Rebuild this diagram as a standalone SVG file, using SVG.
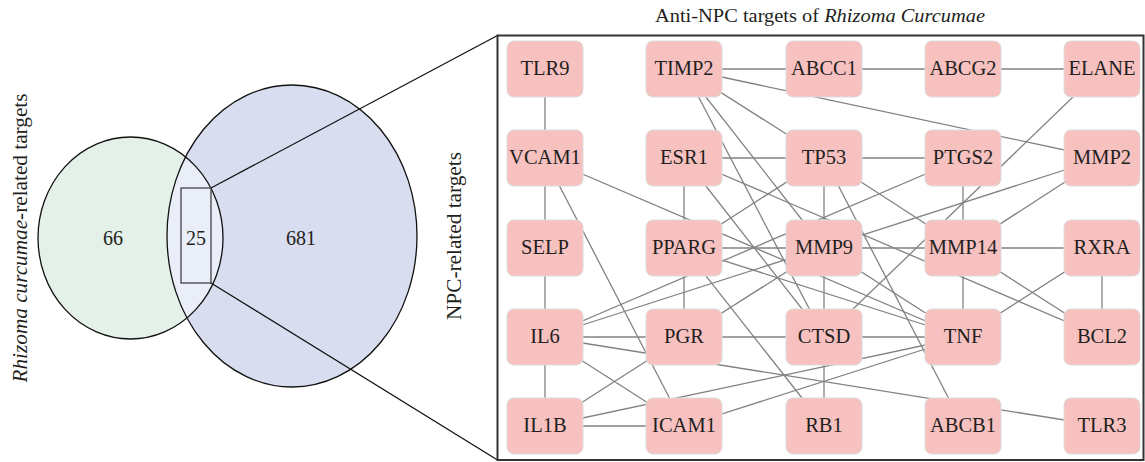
<svg xmlns="http://www.w3.org/2000/svg" width="1145" height="462" viewBox="0 0 1145 462">
<style>
.t{font-family:"Liberation Serif","Times New Roman",serif;fill:#231f20}
.n rect{fill:#f7c1c0;stroke:#dcdcdc;stroke-width:1}
.n text{font-family:"Liberation Serif","Times New Roman",serif;font-size:20.5px;fill:#231f20;text-anchor:middle}
#edges line{stroke:#828282;stroke-width:1.3}
</style>
<defs>
<clipPath id="cg"><ellipse cx="130.5" cy="238" rx="92.5" ry="101"/></clipPath>
</defs>
<rect width="1145" height="462" fill="#fff"/>
<g id="venn">
<ellipse cx="130.5" cy="238" rx="92.5" ry="101" fill="#e3f1e8"/>
<ellipse cx="292" cy="236" rx="125" ry="151" fill="#d8ddf0"/>
<ellipse cx="292" cy="236" rx="125" ry="151" fill="#eaeef8" clip-path="url(#cg)"/>
<ellipse cx="130.5" cy="238" rx="92.5" ry="101" fill="none" stroke="#111" stroke-width="1.3"/>
<ellipse cx="292" cy="236" rx="125" ry="151" fill="none" stroke="#111" stroke-width="1.3"/>
<rect x="181" y="188" width="30" height="95" fill="none" stroke="#444" stroke-width="1.3"/>
<text class="t" x="113" y="245" font-size="20" text-anchor="middle">66</text>
<text class="t" x="196" y="245" font-size="20" text-anchor="middle">25</text>
<text class="t" x="301" y="245" font-size="20" text-anchor="middle">681</text>
<line x1="211" y1="188" x2="497.5" y2="35.5" stroke="#111" stroke-width="1.3"/>
<line x1="211" y1="283" x2="497.5" y2="460" stroke="#111" stroke-width="1.3"/>
</g>
<text class="t" font-size="20" text-anchor="middle" textLength="289" lengthAdjust="spacingAndGlyphs" transform="translate(27,238) rotate(-90)"><tspan font-style="italic">Rhizoma curcumae</tspan>-related targets</text>
<text class="t" font-size="20" text-anchor="middle" textLength="168" lengthAdjust="spacingAndGlyphs" transform="translate(461,236) rotate(-90)">NPC-related targets</text>
<text class="t" font-size="18" x="820" y="22" text-anchor="middle" textLength="330" lengthAdjust="spacingAndGlyphs">Anti-NPC targets of <tspan font-style="italic">Rhizoma Curcumae</tspan></text>
<rect x="497.5" y="35.5" width="646" height="424.5" fill="none" stroke="#333" stroke-width="2"/>
<g id="edges">
<line x1="545" y1="69" x2="545" y2="158"/>
<line x1="684" y1="69" x2="824" y2="69"/>
<line x1="824" y1="69" x2="963" y2="69"/>
<line x1="963" y1="69" x2="1102" y2="69"/>
<line x1="684" y1="69" x2="1102" y2="158"/>
<line x1="684" y1="69" x2="824" y2="158"/>
<line x1="684" y1="69" x2="824" y2="337"/>
<line x1="684" y1="69" x2="824" y2="248"/>
<line x1="684" y1="158" x2="824" y2="158"/>
<line x1="684" y1="158" x2="684" y2="248"/>
<line x1="684" y1="158" x2="824" y2="337"/>
<line x1="684" y1="158" x2="1102" y2="337"/>
<line x1="824" y1="158" x2="963" y2="158"/>
<line x1="824" y1="158" x2="824" y2="248"/>
<line x1="824" y1="158" x2="684" y2="248"/>
<line x1="824" y1="158" x2="963" y2="426"/>
<line x1="824" y1="158" x2="963" y2="248"/>
<line x1="963" y1="158" x2="963" y2="248"/>
<line x1="545" y1="337" x2="963" y2="158"/>
<line x1="1102" y1="69" x2="824" y2="337"/>
<line x1="1102" y1="158" x2="963" y2="248"/>
<line x1="545" y1="337" x2="1102" y2="158"/>
<line x1="545" y1="158" x2="545" y2="248"/>
<line x1="545" y1="158" x2="684" y2="426"/>
<line x1="545" y1="158" x2="963" y2="337"/>
<line x1="684" y1="248" x2="963" y2="248"/>
<line x1="684" y1="248" x2="963" y2="337"/>
<line x1="684" y1="248" x2="684" y2="337"/>
<line x1="684" y1="248" x2="824" y2="426"/>
<line x1="824" y1="248" x2="824" y2="426"/>
<line x1="824" y1="248" x2="963" y2="337"/>
<line x1="824" y1="248" x2="684" y2="337"/>
<line x1="963" y1="248" x2="1102" y2="248"/>
<line x1="963" y1="248" x2="963" y2="337"/>
<line x1="963" y1="248" x2="1102" y2="337"/>
<line x1="1102" y1="248" x2="1102" y2="337"/>
<line x1="1102" y1="248" x2="963" y2="337"/>
<line x1="545" y1="248" x2="545" y2="426"/>
<line x1="545" y1="337" x2="963" y2="337"/>
<line x1="545" y1="337" x2="684" y2="426"/>
<line x1="545" y1="337" x2="1102" y2="426"/>
<line x1="684" y1="337" x2="545" y2="426"/>
<line x1="545" y1="426" x2="684" y2="426"/>
<line x1="545" y1="426" x2="963" y2="337"/>
<line x1="684" y1="426" x2="963" y2="337"/>
</g>
<g id="TLR9" class="n"><rect x="507" y="41" width="76" height="56" rx="7"/><text x="545" y="75">TLR9</text></g>
<g id="TIMP2" class="n"><rect x="646" y="41" width="76" height="56" rx="7"/><text x="684" y="75">TIMP2</text></g>
<g id="ABCC1" class="n"><rect x="786" y="41" width="76" height="56" rx="7"/><text x="824" y="75">ABCC1</text></g>
<g id="ABCG2" class="n"><rect x="925" y="41" width="76" height="56" rx="7"/><text x="963" y="75">ABCG2</text></g>
<g id="ELANE" class="n"><rect x="1064" y="41" width="76" height="56" rx="7"/><text x="1102" y="75">ELANE</text></g>
<g id="VCAM1" class="n"><rect x="507" y="130" width="76" height="56" rx="7"/><text x="545" y="164">VCAM1</text></g>
<g id="ESR1" class="n"><rect x="646" y="130" width="76" height="56" rx="7"/><text x="684" y="164">ESR1</text></g>
<g id="TP53" class="n"><rect x="786" y="130" width="76" height="56" rx="7"/><text x="824" y="164">TP53</text></g>
<g id="PTGS2" class="n"><rect x="925" y="130" width="76" height="56" rx="7"/><text x="963" y="164">PTGS2</text></g>
<g id="MMP2" class="n"><rect x="1064" y="130" width="76" height="56" rx="7"/><text x="1102" y="164">MMP2</text></g>
<g id="SELP" class="n"><rect x="507" y="220" width="76" height="56" rx="7"/><text x="545" y="254">SELP</text></g>
<g id="PPARG" class="n"><rect x="646" y="220" width="76" height="56" rx="7"/><text x="684" y="254">PPARG</text></g>
<g id="MMP9" class="n"><rect x="786" y="220" width="76" height="56" rx="7"/><text x="824" y="254">MMP9</text></g>
<g id="MMP14" class="n"><rect x="925" y="220" width="76" height="56" rx="7"/><text x="963" y="254">MMP14</text></g>
<g id="RXRA" class="n"><rect x="1064" y="220" width="76" height="56" rx="7"/><text x="1102" y="254">RXRA</text></g>
<g id="IL6" class="n"><rect x="507" y="309" width="76" height="56" rx="7"/><text x="545" y="343">IL6</text></g>
<g id="PGR" class="n"><rect x="646" y="309" width="76" height="56" rx="7"/><text x="684" y="343">PGR</text></g>
<g id="CTSD" class="n"><rect x="786" y="309" width="76" height="56" rx="7"/><text x="824" y="343">CTSD</text></g>
<g id="TNF" class="n"><rect x="925" y="309" width="76" height="56" rx="7"/><text x="963" y="343">TNF</text></g>
<g id="BCL2" class="n"><rect x="1064" y="309" width="76" height="56" rx="7"/><text x="1102" y="343">BCL2</text></g>
<g id="IL1B" class="n"><rect x="507" y="398" width="76" height="56" rx="7"/><text x="545" y="432">IL1B</text></g>
<g id="ICAM1" class="n"><rect x="646" y="398" width="76" height="56" rx="7"/><text x="684" y="432">ICAM1</text></g>
<g id="RB1" class="n"><rect x="786" y="398" width="76" height="56" rx="7"/><text x="824" y="432">RB1</text></g>
<g id="ABCB1" class="n"><rect x="925" y="398" width="76" height="56" rx="7"/><text x="963" y="432">ABCB1</text></g>
<g id="TLR3" class="n"><rect x="1064" y="398" width="76" height="56" rx="7"/><text x="1102" y="432">TLR3</text></g>
</svg>
